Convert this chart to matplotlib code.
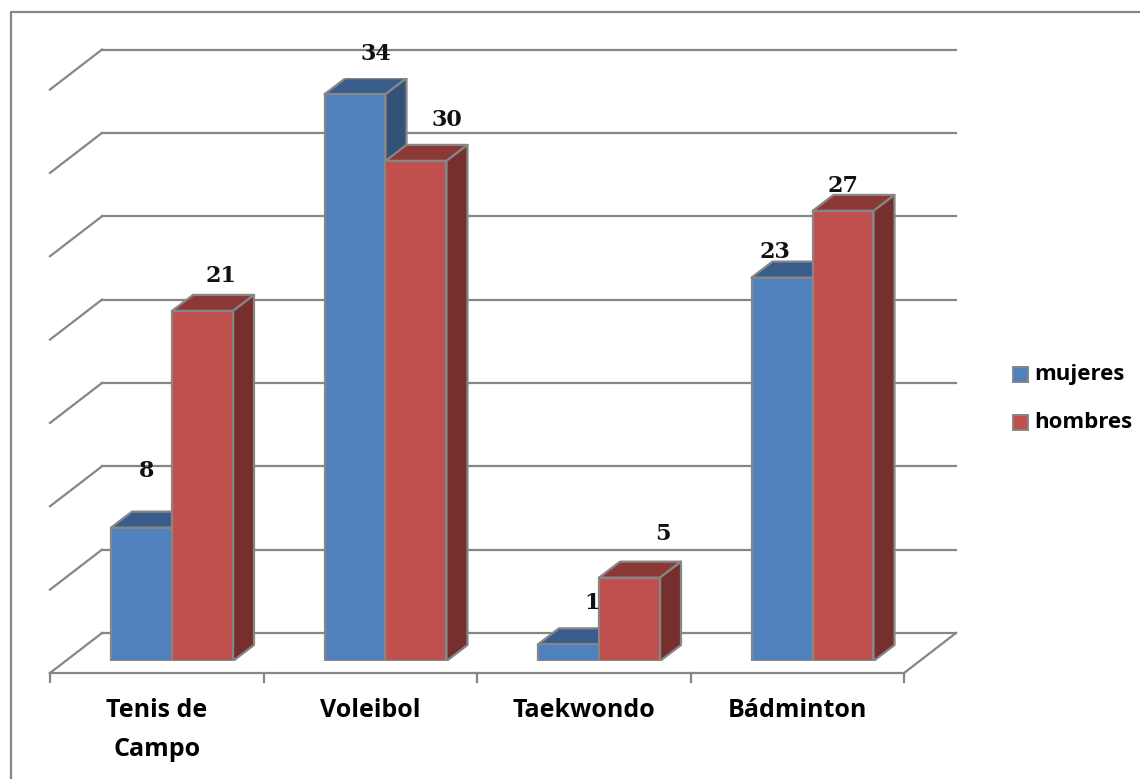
import numpy as np
import matplotlib
matplotlib.use("Agg")
import matplotlib.pyplot as plt
from matplotlib.patches import Polygon, Rectangle
from matplotlib.transforms import ScaledTranslation

categorias = ["Tenis de\nCampo", "Voleibol", "Taekwondo", "Bádminton"]
mujeres = [8, 34, 1, 23]
hombres = [21, 30, 5, 27]
rejilla = [0, 5, 10, 15, 20, 25, 30, 35]

W, H = 1140, 779
DPI = 100
GRIS = "#868686"

fig = plt.figure(figsize=(W / DPI, H / DPI), dpi=DPI)

# eje: base de las barras en 661 px, 16.67 px por unidad
y_tope = 661 - 35 * 16.67
ax = fig.add_axes([50 / W, 1 - 661 / H, 854 / W, (661 - y_tope) / H])
ax.set_xlim(0, 4)
ax.set_ylim(0, 35)
ax.axis("off")


def desplazado(dx, dy):
    # desplazamiento en pixeles, para la profundidad falsa
    return ax.transData + ScaledTranslation(dx / DPI, dy / DPI, fig.dpi_scale_trans)


def linea_px(a, b):
    fig.add_artist(plt.Line2D([a[0] / W, b[0] / W], [a[1] / H, b[1] / H], color=GRIS, lw=1.6,
                              zorder=1))


# rejilla: diagonal izquierda y linea del fondo
for v in rejilla:
    ax.plot([0, 4], [v, v], color=GRIS, lw=1.6, clip_on=False, zorder=1,
            transform=desplazado(52, 28))
    x0, y0 = ax.transData.transform((0, v))
    linea_px((x0, y0 - 12), (x0 + 52, y0 + 28))

# suelo: frente, diagonal derecha y marcas
x0, y0 = ax.transData.transform((0, 0))
x1, y1 = ax.transData.transform((4, 0))
linea_px((x0, y0 - 12), (x1, y1 - 12))
linea_px((x1, y1 - 12), (x1 + 52, y1 + 28))
for i in range(5):
    xt, yt = ax.transData.transform((i, 0))
    linea_px((xt, yt - 12), (xt, yt - 21))

ANCHO = 61 / 213.5
DX, DY = 21, 16


def barra(xi, v, frente, arriba, lado):
    x_d = xi + ANCHO
    caras = [
        ([(xi, v), (x_d, v), (x_d, v), (xi, v)], [(0, 0), (0, 0), (DX, DY), (DX, DY)], arriba),
        ([(x_d, 0), (x_d, v), (x_d, v), (x_d, 0)], [(0, 0), (0, 0), (DX, DY), (DX, DY)], lado),
        ([(xi, 0), (x_d, 0), (x_d, v), (xi, v)], [(0, 0)] * 4, frente),
    ]
    for pts, offs, color in caras:
        px = [ax.transData.transform(p) + np.array(o) for p, o in zip(pts, offs)]
        ax.add_patch(Polygon(np.array(px), closed=True, transform=None, facecolor=color,
                             edgecolor=GRIS, lw=1.6, joinstyle="round", zorder=3))


AZUL = ("#4f81bd", "#385d8a", "#325279")
ROJO = ("#c0504d", "#8c3836", "#772f2d")

# posicion del borde izquierdo de cada grupo dentro de la categoria
inicio = (111 - 50) / 213.5
etq_m = [(147, 471), (376, 54), (592, 603), (775, 252)]
etq_h = [(221, 276), (447, 120), (663, 534), (843, 186)]

for i in range(len(categorias)):
    barra(i + inicio, mujeres[i], *AZUL)
    barra(i + inicio + ANCHO, hombres[i], *ROJO)
    fig.text(etq_m[i][0] / W, 1 - etq_m[i][1] / H, str(mujeres[i]), ha="center", va="center",
             family="DejaVu Serif", weight="bold", fontsize=16, color="#111111", zorder=5)
    fig.text(etq_h[i][0] / W, 1 - etq_h[i][1] / H, str(hombres[i]), ha="center", va="center",
             family="DejaVu Serif", weight="bold", fontsize=16, color="#111111", zorder=5)
    ax.text(i + 0.5, 0, categorias[i], transform=desplazado(0, -37), ha="center", va="top",
            family="Open Sans", weight="bold", fontsize=18, color="black", linespacing=1.72)

# leyenda a mano para copiar los cuadritos
for nombre, color, y in [("mujeres", AZUL[0], 374.5), ("hombres", ROJO[0], 422.5)]:
    fig.add_artist(Rectangle((1013 / W, 1 - (y + 7.5) / H), 15 / W, 15 / H, transform=fig.transFigure,
                             facecolor=color, edgecolor=GRIS, lw=1.4))
    fig.text(1034 / W, 1 - y / H, nombre, ha="left", va="center", family="Open Sans",
             weight="bold", fontsize=16, color="black")

# marco del grafico
fig.add_artist(plt.Line2D([11 / W, 11 / W, 1 / 1], [0, 1 - 12 / H, 1 - 12 / H],
                          color=GRIS, lw=1.6))

fig.savefig("out.png", dpi=DPI)
